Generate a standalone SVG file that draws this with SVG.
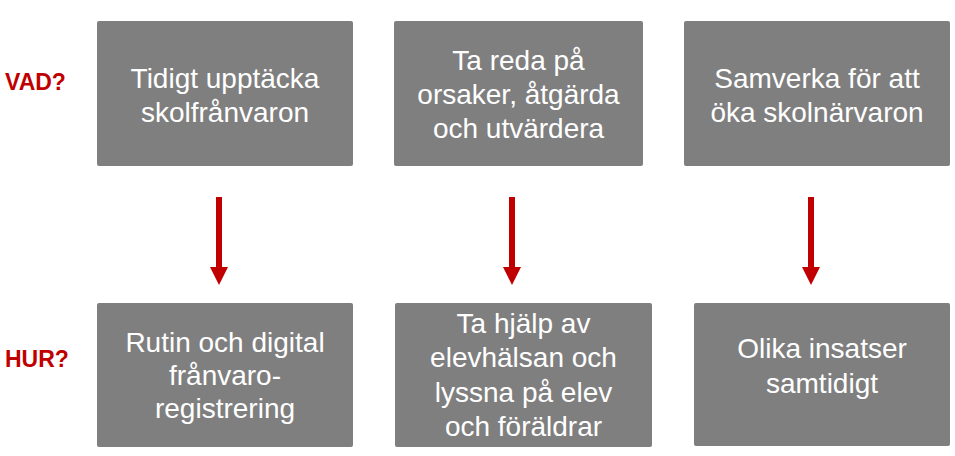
<svg xmlns="http://www.w3.org/2000/svg" width="955" height="456" viewBox="0 0 955 456">
<style>
.box{fill:#7f7f7f}
.t{font-family:"Liberation Sans",Arial,sans-serif;font-size:28px;fill:#ffffff;text-anchor:middle}
.lbl{font-family:"Liberation Sans",Arial,sans-serif;font-size:23px;font-weight:bold;fill:#c00000}
.shaft{stroke:#c00000;stroke-width:6;fill:none}
.head{fill:#c00000}
</style>
<rect width="955" height="456" fill="#ffffff"/>
<text class="lbl" x="5" y="90">VAD?</text>
<text class="lbl" x="5" y="367">HUR?</text>
<g id="n1"><rect class="box" x="97" y="21" width="256" height="145" rx="2"/>
<text class="t" x="225" y="88">Tidigt upptäcka</text><text class="t" x="225" y="122">skolfrånvaron</text></g>
<g id="n2"><rect class="box" x="394" y="21" width="249" height="145" rx="2"/>
<text class="t" x="518.5" y="70">Ta reda på</text><text class="t" x="518.5" y="104">orsaker, åtgärda</text><text class="t" x="518.5" y="138">och utvärdera</text></g>
<g id="n3"><rect class="box" x="684" y="21" width="266" height="145" rx="2"/>
<text class="t" x="817" y="88">Samverka för att</text><text class="t" x="817" y="122">öka skolnärvaron</text></g>
<g id="n4"><rect class="box" x="97" y="303" width="256" height="144" rx="2"/>
<text class="t" x="225" y="352">Rutin och digital</text><text class="t" x="225" y="385">frånvaro-</text><text class="t" x="225" y="418">registrering</text></g>
<g id="n5"><rect class="box" x="395" y="303" width="257" height="144" rx="2"/>
<text class="t" x="523.5" y="333">Ta hjälp av</text><text class="t" x="523.5" y="367">elevhälsan och</text><text class="t" x="523.5" y="402">lyssna på elev</text><text class="t" x="523.5" y="436">och föräldrar</text></g>
<g id="n6"><rect class="box" x="694" y="303" width="256" height="143" rx="2"/>
<text class="t" x="822" y="358">Olika insatser</text><text class="t" x="822" y="393">samtidigt</text></g>
<g id="connectors">
<line class="shaft" x1="219" y1="197" x2="219" y2="268"/><polygon class="head" points="210,267 228,267 219,285"/>
<line class="shaft" x1="512" y1="197" x2="512" y2="268"/><polygon class="head" points="503,267 521,267 512,285"/>
<line class="shaft" x1="811" y1="197" x2="811" y2="268"/><polygon class="head" points="802,267 820,267 811,285"/>
</g>
</svg>
